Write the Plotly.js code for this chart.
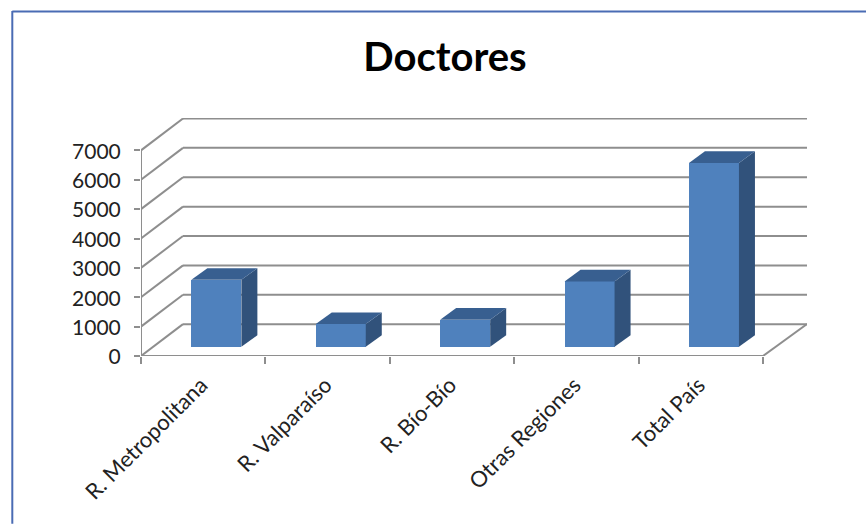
<!DOCTYPE html>
<html>
<head>
<meta charset="utf-8">
<script src="https://cdn.plot.ly/plotly-3.0.1.min.js"></script>
<style>html,body{margin:0;padding:0;background:#fff;overflow:hidden}#chart{width:866px;height:525px}</style>
</head>
<body>
<div id="chart"></div>
<script>
const categories = ["R. Metropolitana", "R. Valparaíso", "R. Bío-Bío", "Otras Regiones", "Total País"];
const doctores = [2280, 775, 925, 2225, 6260];
const yTicks = [0, 1000, 2000, 3000, 4000, 5000, 6000, 7000];
const titleText = "Doctores";

// pseudo-3D projection, in axis units
const xMin = -0.5, xFront = 4.5, xMax = 4.854, yMax = 8102;
const wallDxLeft = 0.3376, wallDy = 1085;
const barOffset = -0.095, barWidth = 0.402, barBase = 312, barDx = 0.1286, barDy = 397;

const colFront = "#4f81bd", colSide = "#31527b", colTop = "#385f90", colGrid = "#8e8e8e", colBorder = "#4a6cb4";
const mL = 140.7, mR = 59.3, mT = 117.5, mB = 168.5;
const plotW = 866 - mL - mR, plotH = 525 - mT - mB;
const px = v => (v - mL) / plotW;
const py = v => (525 - mB - v) / plotH;

const gridLine = (x0, y0, x1, y1) => ({
  type: "line", layer: "below", xref: "x2", yref: "y", x0, y0, x1, y1,
  line: {color: colGrid, width: 2}
});
const shapes = [];
yTicks.forEach(v => {
  shapes.push(gridLine(xMin, v, xMin + wallDxLeft, v + wallDy));
  shapes.push(gridLine(xMin + wallDxLeft, v + wallDy, xMax, v + wallDy));
});
shapes.push(gridLine(xFront, 0, xMax, wallDy));
shapes.push(gridLine(xMin, 0, xFront, 0));
shapes.push(gridLine(xMin, 0, xMin, yTicks[yTicks.length - 1]));
// outer picture frame
[[12, 10.5, 866, 10.5], [12, 10, 12, 525]].forEach(f => shapes.push({
  type: "line", xref: "paper", yref: "paper",
  x0: px(f[0]), y0: py(f[1]), x1: px(f[2]), y1: py(f[3]),
  line: {color: colBorder, width: 2}
}));

const traces = [{
  type: "bar", x: categories, y: doctores, base: barBase, offset: barOffset, width: barWidth,
  marker: {color: colFront, line: {width: 0}}, xaxis: "x", yaxis: "y", showlegend: false
}];
const face = (xs, ys, color) => ({
  type: "scatter", mode: "lines", x: xs, y: ys, fill: "toself", fillcolor: color,
  line: {width: 0, color}, xaxis: "x2", yaxis: "y", hoverinfo: "skip", showlegend: false
});
doctores.forEach((v, i) => {
  const l = i + barOffset, r = l + barWidth, b = barBase, t = barBase + v;
  traces.push(face([r, r + barDx, r + barDx, r, r], [b, b + barDy, t + barDy, t, b], colSide));
  traces.push(face([l, r, r + barDx, l + barDx, l], [t, t, t + barDy, t + barDy, t], colTop));
});

const layout = {
  width: 866, height: 525,
  margin: {l: mL, r: mR, t: mT, b: mB, pad: 0},
  paper_bgcolor: "#fff", plot_bgcolor: "#fff",
  font: {family: "Lato, 'Open Sans', sans-serif", color: "#222"},
  title: {
    text: titleText, x: 445 / 866, xanchor: "center", xref: "container",
    y: 1 - 57 / 525, yanchor: "middle", yref: "container",
    font: {family: "Lato, sans-serif", size: 40, weight: 700, color: "#000"}
  },
  showlegend: false,
  bargap: 0,
  xaxis: {
    type: "category", categoryorder: "array", categoryarray: categories,
    range: [xMin, xMax], tickson: "boundaries", ticks: "outside", ticklen: 7, tickwidth: 2,
    tickcolor: colGrid, showgrid: false, showline: false, zeroline: false,
    tickangle: -45, tickfont: {size: 22, color: "#222"}, ticklabelstandoff: 11, ticklabelshift: -2, fixedrange: true
  },
  xaxis2: {
    type: "linear", overlaying: "x", range: [xMin, xMax], visible: false, fixedrange: true
  },
  yaxis: {
    range: [0, yMax], tickmode: "array", tickvals: yTicks, ticks: "outside", ticklen: 6, tickwidth: 2,
    tickcolor: colGrid, showgrid: false, showline: false, zeroline: false,
    tickfont: {size: 21, color: "#222"}, ticklabelstandoff: 9, ticklabelshift: 1, fixedrange: true
  },
  shapes: shapes
};
Plotly.newPlot("chart", traces, layout, {displayModeBar: false, responsive: false});
</script>
</body>
</html>
